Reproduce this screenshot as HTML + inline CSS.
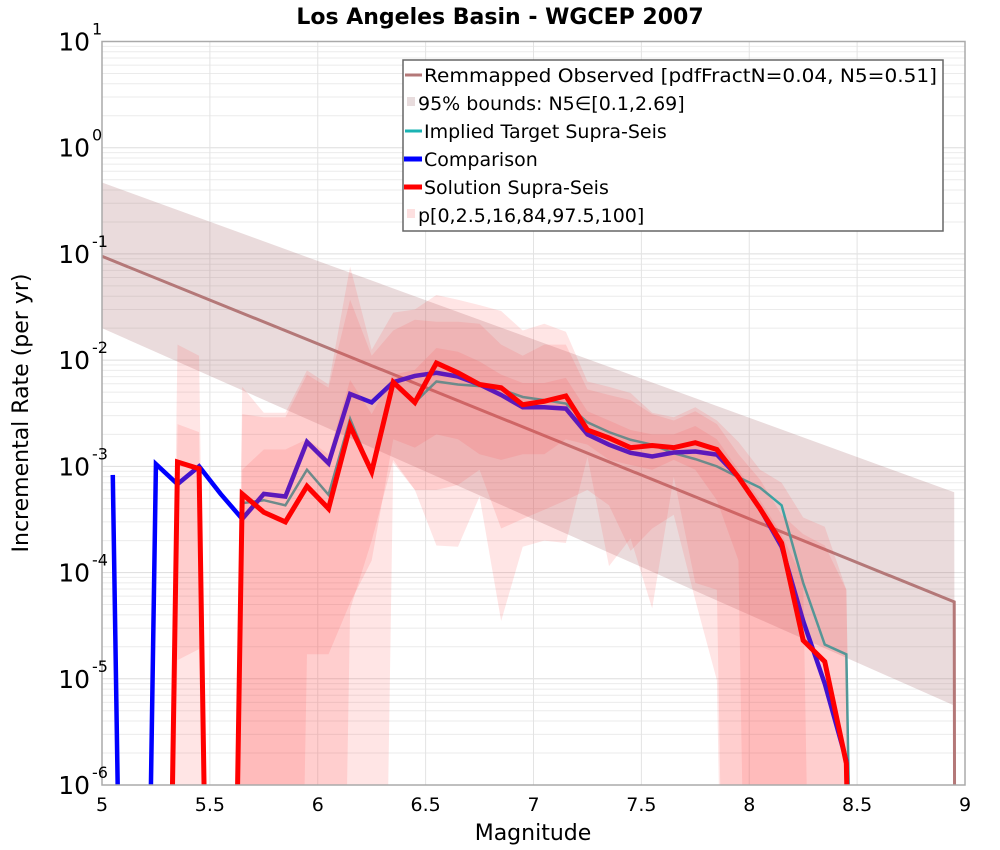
<!DOCTYPE html>
<html><head><meta charset="utf-8"><style>
html,body{margin:0;padding:0;background:#fff;overflow:hidden;width:1000px;height:850px;}
svg{display:block;}
svg text{font-family:"DejaVu Sans","Liberation Sans",sans-serif;}
</style></head><body>
<svg id="chart" width="1000" height="850" viewBox="0 0 1000 850" xmlns="http://www.w3.org/2000/svg">
<rect width="1000" height="850" fill="#fff"/>
<text x="500" y="24" font-size="22" font-weight="bold" text-anchor="middle">Los Angeles Basin - WGCEP 2007</text>
<defs><clipPath id="clip"><rect x="102" y="41.5" width="863" height="743.5"/></clipPath></defs>
<g id="grid"></g>
<g id="plot" clip-path="url(#clip)"></g>
<rect x="102" y="41.5" width="863" height="743.5" fill="none" stroke="#aaa" stroke-width="1.5"/>
<g id="axes"></g>
<text x="533" y="840" font-size="22" text-anchor="middle">Magnitude</text>
<text transform="translate(28,413) rotate(-90)" font-size="22" text-anchor="middle">Incremental Rate (per yr)</text>
<g>
<rect x="403" y="60" width="540" height="171" fill="#fff" stroke="#666" stroke-width="1.5"/>
<g><line x1="405" y1="75" x2="422" y2="75" stroke="#b47878" stroke-width="3"/><text x="424" y="82" font-size="19" textLength="513" lengthAdjust="spacingAndGlyphs">Remmapped Observed [pdfFractN=0.04, N5=0.51]</text></g>
<g><rect x="407" y="97" width="8" height="9" fill="#e8dcdd"/><text x="418" y="110" font-size="19">95% bounds: N5∈[0.1,2.69]</text></g>
<g><line x1="405" y1="131" x2="422" y2="131" stroke="#1ab3b3" stroke-width="3"/><text x="424" y="138" font-size="19">Implied Target Supra-Seis</text></g>
<g><line x1="404" y1="159" x2="422" y2="159" stroke="#0000ff" stroke-width="5"/><text x="424" y="166" font-size="19">Comparison</text></g>
<g><line x1="404" y1="187" x2="422" y2="187" stroke="#ff0000" stroke-width="5"/><text x="424" y="194" font-size="19">Solution Supra-Seis</text></g>
<g><rect x="407" y="209" width="8" height="9" fill="#fde0e0"/><text x="418" y="222" font-size="19">p[0,2.5,16,84,97.5,100]</text></g>
</g>
</svg>
<script>
const mags=[5.05,5.15,5.25,5.35,5.45,5.55,5.65,5.75,5.85,5.95,6.05,6.15,6.25,6.35,6.45,6.55,6.65,6.75,6.85,6.95,7.05,7.15,7.25,7.35,7.45,7.55,7.65,7.75,7.85,7.95,8.05,8.15,8.25,8.35,8.45,8.55];
const comparison=[8.3e-4,0,1.05e-3,6.8e-4,1.0e-3,5.5e-4,3.2e-4,5.5e-4,5.2e-4,1.7e-3,1.07e-3,4.8e-3,4.0e-3,6.2e-3,7.1e-3,7.6e-3,7.0e-3,5.9e-3,4.7e-3,3.6e-3,3.6e-3,3.5e-3,2.0e-3,1.6e-3,1.34e-3,1.24e-3,1.35e-3,1.38e-3,1.29e-3,7.9e-4,4.0e-4,1.75e-4,3.5e-5,9e-6,1.7e-6,0];
const target=[0,0,0,0,0,0,4.5e-4,4.8e-4,4.3e-4,9.3e-4,5.4e-4,2.8e-3,8.9e-4,6.2e-3,4.0e-3,6.3e-3,5.9e-3,5.7e-3,5.3e-3,4.5e-3,4.2e-3,3.9e-3,2.6e-3,2.1e-3,1.78e-3,1.6e-3,1.33e-3,1.17e-3,1.0e-3,7.9e-4,6.3e-4,4.3e-4,8e-5,2.1e-5,1.7e-5,0];
const solution=[0,0,0,1.1e-3,9.5e-4,0,5.5e-4,3.7e-4,3.0e-4,6.5e-4,4.0e-4,2.4e-3,8.9e-4,6.2e-3,4.0e-3,9.4e-3,7.6e-3,5.9e-3,5.5e-3,3.8e-3,4.1e-3,4.6e-3,2.2e-3,1.85e-3,1.5e-3,1.57e-3,1.5e-3,1.67e-3,1.44e-3,7.9e-4,4.0e-4,1.9e-4,2.3e-5,1.45e-5,1.6e-6,0];
const p0=[0,0,0,0,0,0,0,0,0,0,0,0,0,1.08e-3,6e-4,1.8e-4,1.75e-4,5.2e-4,3.5e-5,1.75e-4,2.0e-4,1.9e-4,1.23e-3,1.15e-4,2.1e-4,4.6e-5,8e-4,8e-5,6.9e-5,0,0,0,0,0,0,0];
const p100=[0,0,0,1.4e-2,1.1e-2,0,5.6e-3,3.2e-3,3.2e-3,8e-3,5.9e-3,7.6e-2,1.25e-2,2.8e-2,3e-2,4.1e-2,3.7e-2,3.3e-2,2.9e-2,1.9e-2,2.2e-2,1.85e-2,6.3e-3,5.6e-3,4.9e-3,3.2e-3,2.9e-3,3.6e-3,2.7e-3,1.7e-3,9.3e-4,7e-4,3.3e-4,2.7e-4,6.9e-5,0];
const p2_5=[0,0,0,1.5e-5,1.9e-5,0,0,0,0,0,0,4.5e-5,2e-4,1.15e-3,6e-4,6e-4,6.7e-4,9.3e-4,2.6e-4,3.2e-4,3.9e-4,4.8e-4,6e-4,4.3e-4,1.6e-4,2.6e-4,3.5e-4,5.5e-5,9.7e-6,0,0,0,0,0,0,0];
const p97_5=[0,0,0,2.5e-3,2.1e-3,0,3.1e-3,2.9e-3,2.9e-3,7.3e-3,5.5e-3,3.7e-2,1.1e-2,1.9e-2,2.4e-2,2.3e-2,2.3e-2,2.2e-2,1.4e-2,1.1e-2,1.4e-2,1.4e-2,5.3e-3,4.7e-3,4.2e-3,3.1e-3,2.7e-3,3.3e-3,2.5e-3,1.3e-3,7.5e-4,3.5e-4,2.3e-4,1.8e-4,6.9e-5,0];
const p16=[0,0,0,0,0,0,0,0,0,1.7e-5,1.7e-5,5.2e-5,1.3e-4,1.8e-3,1.5e-3,2e-3,1.8e-3,1.3e-3,1.15e-3,1.3e-3,1.3e-3,1.8e-3,1.6e-3,1.15e-3,1.03e-3,9.3e-4,1.15e-3,9.3e-4,4.8e-4,1.3e-4,0,0,0,0,0,0];
const p84=[0,0,0,0,0,0,9.3e-4,1.44e-3,1.44e-3,1.8e-3,1.3e-3,6.5e-3,3.1e-3,7.3e-3,8.1e-3,1.3e-2,1.2e-2,9.7e-3,7.3e-3,6.1e-3,6.1e-3,6.8e-3,3.3e-3,2.7e-3,2.2e-3,2.0e-3,2.0e-3,2.4e-3,1.8e-3,9.3e-4,4.8e-4,2.3e-4,8.5e-5,0,0,0];
const obsMags=[5.0,8.95,8.96];
const observed=[0.095,5.3e-5,0];
const obsUpper=[0.47,5.7e-4,0];
const obsLower=[0.02,5.6e-6,0];
const xTicks=[5,5.5,6,6.5,7,7.5,8,8.5,9];
const xTickLabels=["5","5.5","6","6.5","7","7.5","8","8.5","9"];
const yDecades=[1,0,-1,-2,-3,-4,-5,-6];

const NS="http://www.w3.org/2000/svg";
const X0=102,X1=965,Y0=41.5,Y1=785;
function xs(m){return X0+(m-5)/4*(X1-X0);}
function ys(v){const l=v>0?Math.log10(v):-16;return Y0+(1-l)/7*(Y1-Y0);}
function mk(tag,attrs,parent){const e=document.createElementNS(NS,tag);for(const k in attrs)e.setAttribute(k,attrs[k]);parent.appendChild(e);return e;}
const grid=document.getElementById('grid'),plot=document.getElementById('plot'),axes=document.getElementById('axes');
for(let d=-6;d<1;d++){for(let k=1;k<10;k++){const y=ys(k*Math.pow(10,d));
 const ln=mk('line',{x1:X0,x2:X1,y1:y,y2:y,stroke:k===1?'#ddd':'#ebebeb','stroke-width':1},grid);
 
 }}
xTicks.forEach((t,i)=>{const x=xs(t);
 const ln=mk('line',{x1:x,x2:x,y1:Y0,y2:Y1,stroke:'#e3e3e3','stroke-width':1},grid);
 
 
 const tx=mk('text',{x:x,y:811,'font-size':19,'text-anchor':'middle'},axes);tx.textContent=xTickLabels[i];
 
 });
yDecades.forEach(d=>{const y=ys(Math.pow(10,d));
 const tx=mk('text',{x:90,y:y+9,'font-size':25,'text-anchor':'end'},axes);tx.textContent='10';
 
 
 const sp=mk('text',{x:92,y:y-7,'font-size':16,'text-anchor':'start'},axes);sp.textContent=String(d);
 
 });
function band(ms,lo,hi,fill,name){let pts=[];ms.forEach((m,i)=>pts.push(xs(m)+','+ys(hi[i])));
 for(let i=ms.length-1;i>=0;i--)pts.push(xs(ms[i])+','+ys(lo[i]));
 const p=mk('polygon',{points:pts.join(' '),fill:fill},plot);
 
 }
function line(ms,vs,color,w,name){const pts=ms.map((m,i)=>xs(m)+','+ys(vs[i])).join(' ');
 const p=mk('polyline',{points:pts,fill:'none',stroke:color,'stroke-width':w,'stroke-linejoin':'miter'},plot);
 
 }
band(obsMags,obsLower,obsUpper,'rgba(170,110,115,0.25)','observed-95-band');
line(obsMags,observed,'#b47878',3,'observed-line');
line(mags,target,'#1ab3b3',2.5,'target-line');
line(mags,comparison,'#0000ff',4.5,'comparison-line');
band(mags,p0,p100,'rgba(255,70,70,0.14)','percentile-band-0-100');
band(mags,p2_5,p97_5,'rgba(255,70,70,0.14)','percentile-band-2.5-97.5');
band(mags,p16,p84,'rgba(255,70,70,0.14)','percentile-band-16-84');
line(mags,solution,'#ff0000',5,'solution-line');
</script>
</body></html>
